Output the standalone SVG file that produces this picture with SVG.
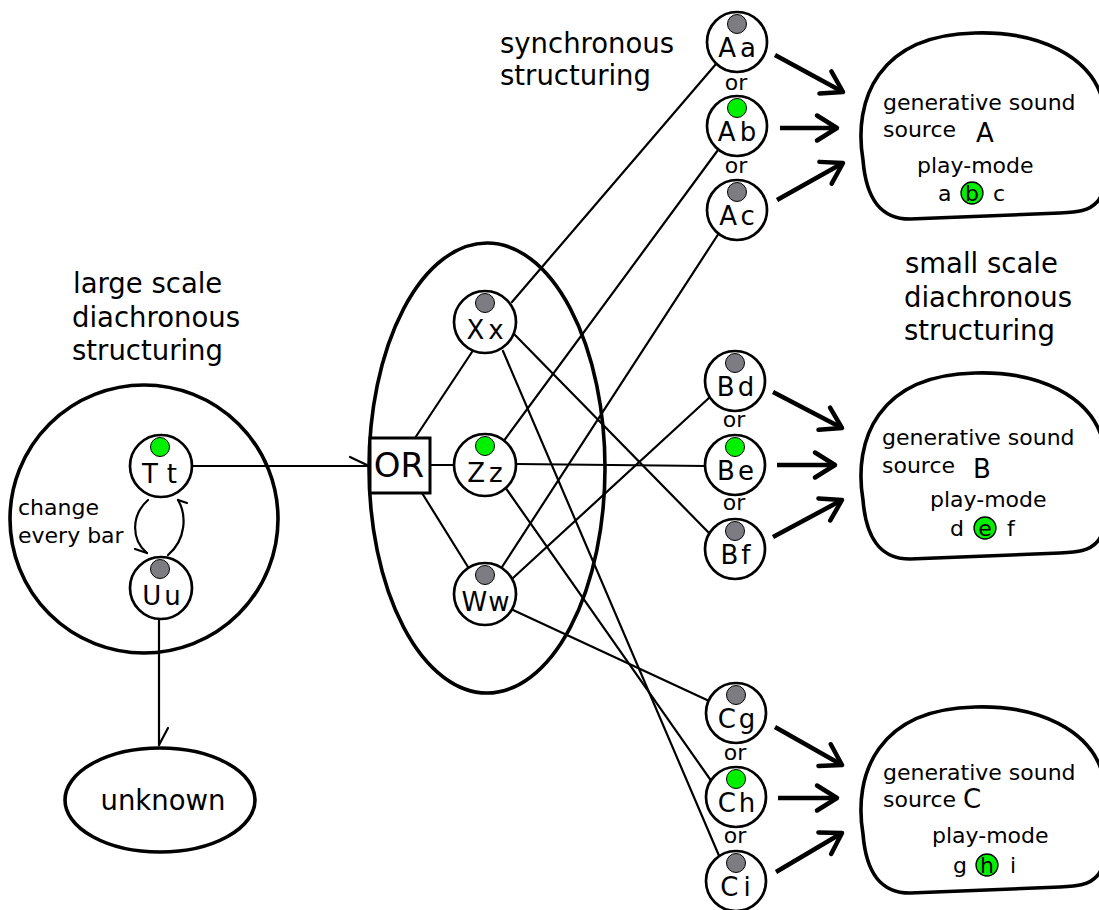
<svg xmlns="http://www.w3.org/2000/svg" xmlns:xlink="http://www.w3.org/1999/xlink" width="1099" height="910" viewBox="0 0 1099 910">
  <defs>
    <style>
      text{font-family:"DejaVu Sans","Liberation Sans",sans-serif;fill:#000}
      .lbl{font-size:27.5px}
      .ring{fill:#fff;stroke:#000;stroke-width:2.7}
      .nt{font-size:26px;text-anchor:middle;letter-spacing:4px}
      .off{fill:#7c7c82;stroke:#000;stroke-width:1}
      .on{fill:#00f000;stroke:#000;stroke-width:1}
      .or{font-size:22px;text-anchor:middle}
      .thin{stroke:#000;stroke-width:2.2;fill:none;stroke-linecap:round}
      .thick{stroke:#000;stroke-width:4.5;fill:none;marker-end:url(#head)}
      .hull{fill:none;stroke:#000;stroke-width:3.6}
      .src{fill:#fff;stroke:#000;stroke-width:3.6}
      .st{font-size:22px}
      .big{font-size:26px}
      .pm{fill:#00f000;stroke:#000;stroke-width:1.3}
      .mid{text-anchor:middle}
    </style>
    <marker id="head" markerUnits="userSpaceOnUse" orient="auto" viewBox="-26 -16 30 32" markerWidth="30" markerHeight="32" refX="0" refY="0" overflow="visible">
      <path d="M-20,-12.5 L0,0 L-20,12.5" fill="none" stroke="#000" stroke-width="4.5" stroke-linecap="round" stroke-linejoin="round"/>
    </marker>
    <path id="blob" d="M863,160 C853,100 878,35 975,33 C1042,31 1088,58 1101,95 C1112,132 1110,188 1097,202 C1089,211 1078,212 1060,213 L910,219 C880,219 866,198 863,160 Z"/>
  </defs>

  <rect width="1099" height="910" fill="#fff"/>

  <!-- section captions -->
  <g id="captions">
    <text class="lbl" x="73" y="293">large scale</text>
    <text class="lbl" x="72" y="327">diachronous</text>
    <text class="lbl" x="72" y="360">structuring</text>
    <text class="lbl" x="500" y="53">synchronous</text>
    <text class="lbl" x="500" y="85">structuring</text>
    <text class="lbl" x="905" y="273">small scale</text>
    <text class="lbl" x="904" y="307">diachronous</text>
    <text class="lbl" x="904" y="340">structuring</text>
  </g>

  <!-- enclosing shapes -->
  <g id="large-scale-group">
    <circle class="hull" cx="144" cy="519" r="134"/>
    <text x="18" y="515" style="font-size:22px">change</text>
    <text x="18" y="543" style="font-size:22px">every bar</text>
  </g>
  <g id="synchronous-group">
    <ellipse class="hull" cx="487" cy="468" rx="118" ry="225"/>
  </g>

  <!-- connectors -->
  <g id="connectors">
    <line class="thin" x1="192" y1="466" x2="369" y2="466"/>
    <line class="thin" x1="350" y1="457" x2="369" y2="466"/>
    <line class="thin" x1="159" y1="619" x2="159" y2="745"/>
    <line class="thin" x1="168" y1="728" x2="159" y2="745"/>
    <path class="thin" d="M148,500 C131,515 131,540 147,553"/>
    <line class="thin" x1="135" y1="549" x2="147" y2="553"/>
    <path class="thin" d="M168,555 C186,540 187,515 178,500"/>
    <line class="thin" x1="187" y1="503" x2="178" y2="500"/>

    <line class="thin" x1="415" y1="438" x2="472" y2="352"/>
    <line class="thin" x1="430" y1="465" x2="454" y2="465"/>
    <line class="thin" x1="422" y1="493" x2="468" y2="567"/>

    <line class="thin" x1="512" y1="302" x2="716" y2="64"/>
    <line class="thin" x1="515" y1="335" x2="710" y2="534"/>
    <line class="thin" x1="503" y1="351" x2="720" y2="858"/>
    <line class="thin" x1="503" y1="442" x2="718" y2="150"/>
    <line class="thin" x1="517" y1="464" x2="706" y2="466"/>
    <line class="thin" x1="505" y1="487" x2="712" y2="782"/>
    <line class="thin" x1="502" y1="567" x2="719" y2="233"/>
    <line class="thin" x1="513" y1="578" x2="710" y2="397"/>
    <line class="thin" x1="513" y1="610" x2="707" y2="700"/>

    <line class="thick" x1="775" y1="55" x2="843" y2="92"/>
    <line class="thick" x1="780" y1="128" x2="837" y2="128"/>
    <line class="thick" x1="777" y1="200" x2="843" y2="163"/>
    <line class="thick" x1="773" y1="392" x2="842" y2="428"/>
    <line class="thick" x1="777" y1="465" x2="835" y2="465"/>
    <line class="thick" x1="773" y1="537" x2="842" y2="500"/>
    <line class="thick" x1="775" y1="727" x2="842" y2="765"/>
    <line class="thick" x1="778" y1="798" x2="837" y2="798"/>
    <line class="thick" x1="776" y1="872" x2="842" y2="833"/>
  </g>

  <!-- large scale nodes -->
  <g id="node-Tt"><circle class="ring" cx="161" cy="466" r="31"/><circle class="on" cx="160" cy="447" r="9.5"/><text class="nt" x="164" y="483" style="letter-spacing:9px">Tt</text></g>
  <g id="node-Uu"><circle class="ring" cx="161" cy="588" r="31"/><circle class="off" cx="160" cy="569" r="9.5"/><text class="nt" x="163" y="605" style="letter-spacing:3px">Uu</text></g>
  <g id="node-unknown"><ellipse class="hull" cx="160" cy="800" rx="95" ry="52"/><text class="lbl mid" x="163" y="810">unknown</text></g>

  <!-- OR switch and its choices -->
  <g id="node-OR"><rect x="370" y="438" width="60" height="55" fill="#fff" stroke="#000" stroke-width="3"/><text class="mid" x="399" y="477" style="font-size:34px">OR</text></g>
  <g id="node-Xx"><circle class="ring" cx="485" cy="322" r="31"/><circle class="off" cx="485" cy="303" r="9.5"/><text class="nt" x="487" y="339">Xx</text></g>
  <g id="node-Zz"><circle class="ring" cx="485" cy="465" r="31"/><circle class="on" cx="485" cy="446" r="9.5"/><text class="nt" x="487" y="482">Zz</text></g>
  <g id="node-Ww"><circle class="ring" cx="485" cy="594" r="31"/><circle class="off" cx="485" cy="575" r="9.5"/><text class="nt" x="486" y="611" style="letter-spacing:1px">Ww</text></g>

  <!-- play-mode choices for source A -->
  <g id="node-Aa"><circle class="ring" cx="737" cy="42" r="30"/><circle class="off" cx="737" cy="24" r="9.5"/><text class="nt" x="739" y="57">Aa</text></g>
  <text class="or" x="736" y="90">or</text>
  <g id="node-Ab"><circle class="ring" cx="737" cy="126" r="30"/><circle class="on" cx="737" cy="108" r="9.5"/><text class="nt" x="739" y="141">Ab</text></g>
  <text class="or" x="736" y="173">or</text>
  <g id="node-Ac"><circle class="ring" cx="737" cy="210" r="30"/><circle class="off" cx="737" cy="192" r="9.5"/><text class="nt" x="739" y="225">Ac</text></g>

  <!-- play-mode choices for source B -->
  <g id="node-Bd"><circle class="ring" cx="735" cy="381" r="30"/><circle class="off" cx="735" cy="363" r="9.5"/><text class="nt" x="737" y="396" style="letter-spacing:3px">Bd</text></g>
  <text class="or" x="734" y="427">or</text>
  <g id="node-Be"><circle class="ring" cx="735" cy="465" r="30"/><circle class="on" cx="735" cy="447" r="9.5"/><text class="nt" x="737" y="480" style="letter-spacing:3px">Be</text></g>
  <text class="or" x="734" y="510">or</text>
  <g id="node-Bf"><circle class="ring" cx="735" cy="549" r="30"/><circle class="off" cx="735" cy="531" r="9.5"/><text class="nt" x="737" y="564" style="letter-spacing:3px">Bf</text></g>

  <!-- play-mode choices for source C -->
  <g id="node-Cg"><circle class="ring" cx="736" cy="713" r="30"/><circle class="off" cx="736" cy="695" r="9.5"/><text class="nt" x="738" y="728" style="letter-spacing:3px">Cg</text></g>
  <text class="or" x="735" y="760">or</text>
  <g id="node-Ch"><circle class="ring" cx="736" cy="797" r="30"/><circle class="on" cx="736" cy="779" r="9.5"/><text class="nt" x="738" y="812" style="letter-spacing:3px">Ch</text></g>
  <text class="or" x="735" y="843">or</text>
  <g id="node-Ci"><circle class="ring" cx="736" cy="881" r="30"/><circle class="off" cx="736" cy="863" r="9.5"/><text class="nt" x="738" y="896" style="letter-spacing:5px">Ci</text></g>

  <!-- generative sound sources -->
  <g id="source-A">
    <use xlink:href="#blob" class="src"/>
    <text class="st" x="883" y="110">generative sound</text>
    <text class="st" x="883" y="137">source</text>
    <text class="big" x="976" y="142">A</text>
    <text class="st" x="917" y="173">play-mode</text>
    <text class="st" x="938" y="201">a</text>
    <circle class="pm" cx="972" cy="193" r="11"/>
    <text class="st mid" x="972" y="201">b</text>
    <text class="st" x="993" y="201">c</text>
  </g>
  <g id="source-B">
    <use xlink:href="#blob" class="src" transform="translate(0,340)"/>
    <text class="st" x="882" y="445">generative sound</text>
    <text class="st" x="882" y="473">source</text>
    <text class="big" x="973" y="478">B</text>
    <text class="st" x="930" y="507">play-mode</text>
    <text class="st" x="950" y="536">d</text>
    <circle class="pm" cx="985" cy="528" r="11"/>
    <text class="st mid" x="985" y="536">e</text>
    <text class="st" x="1007" y="536">f</text>
  </g>
  <g id="source-C">
    <use xlink:href="#blob" class="src" transform="translate(0,674)"/>
    <text class="st" x="883" y="780">generative sound</text>
    <text class="st" x="883" y="807">source</text>
    <text class="big" x="963" y="808">C</text>
    <text class="st" x="932" y="843">play-mode</text>
    <text class="st" x="953" y="873">g</text>
    <circle class="pm" cx="987" cy="865" r="11"/>
    <text class="st mid" x="987" y="873">h</text>
    <text class="st" x="1010" y="873">i</text>
  </g>
</svg>
